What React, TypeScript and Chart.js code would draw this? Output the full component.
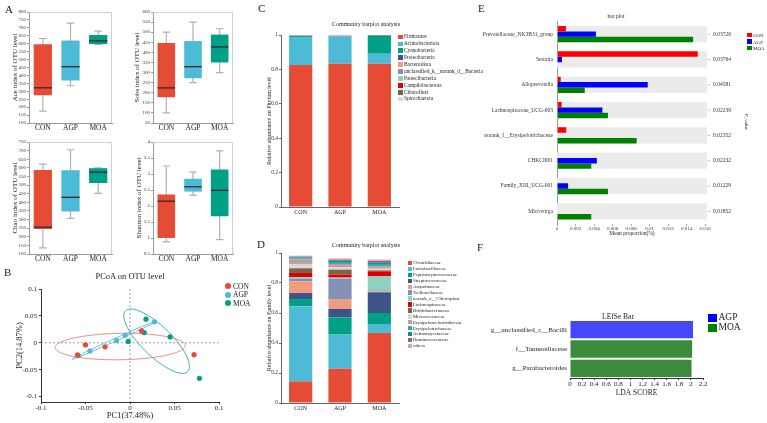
import React, { useEffect, useRef } from 'react';
import { Chart, registerables } from 'chart.js';

Chart.register(...registerables);

const SERIF = "'Liberation Serif', 'Times New Roman', Times, serif";
Chart.defaults.font.family = SERIF;
Chart.defaults.color = '#222';

// Treatment groups
const groups = ['CON', 'AGP', 'MOA'];
const groupColors = ['#E64B35', '#4DBBD5', '#00A087'];

// A: alpha-diversity summaries per group (CON, AGP, MOA)
const aceMin = [175, 335, 595];
const aceQ1 = [275, 368, 598];
const aceMedian = [322, 455, 618];
const aceQ3 = [596, 620, 655];
const aceMax = [633, 730, 680];

const sobsMin = [100, 250, 300];
const sobsQ1 = [178, 272, 350];
const sobsMedian = [224, 329, 427];
const sobsQ3 = [447, 456, 488];
const sobsMax = [500, 550, 517];

const chaoMin = [135, 307, 452];
const chaoQ1 = [245, 347, 512];
const chaoMedian = [256, 429, 575];
const chaoQ3 = [587, 586, 598];
const chaoMax = [622, 705, 600];

const shannonMin = [0.88, 2.34, 0.95];
const shannonQ1 = [1.0, 2.45, 1.68];
const shannonMedian = [2.15, 2.6, 2.49];
const shannonQ3 = [2.36, 2.85, 3.14];
const shannonMax = [3.25, 3.06, 3.72];

// B: PCoA sample scores
const conPC1 = [-0.05, -0.028, -0.059, 0.013, 0.072];
const conPC2 = [-0.004, -0.0075, -0.0225, 0.022, -0.022];
const agpPC1 = [-0.058, -0.045, -0.015, -0.0054, 0.0275];
const agpPC2 = [-0.024, -0.015, 0.004, 0.014, 0.039];
const moaPC1 = [0.018, 0.016, -0.002, 0.045, 0.078];
const moaPC2 = [0.044, 0.019, 0.0025, 0.011, -0.066];
// group confidence ellipses: centre and two conjugate semi-axes (PC1, PC2)
const ellipseCenter = [[-0.011, -0.007], [-0.0175, 0.005], [0.03, 0.003]];
const ellipseAxisA = [[0.073, 0.0025], [0.0477, 0.0356], [0.0351, -0.0563]];
const ellipseAxisB = [[-0.002, 0.0245], [0.0006, -0.0023], [0.0116, 0.02]];
const ellipseColors = ['#EE8C80', '#5EC2D9', '#35B09C'];

// C: phylum-level relative abundance
const phyla = [
  'Firmicutes', 'Actinobacteriota', 'Cyanobacteria', 'Proteobacteria', 'Bacteroidota',
  'unclassified_k__norank_d__Bacteria', 'Patescibacteria', 'Campilobacterota', 'Chloroflexi', 'Spirochaetota',
];
const phylumColors = ['#E64B35', '#4DBBD5', '#00A087', '#3C5488', '#F39B7F', '#8491B4', '#91D1C2', '#DC0000', '#7E6148', '#D9D9D9'];
const phylumCON = [0.825, 0.16, 0.009, 0.001, 0.002, 0.001, 0.001, 0.0005, 0.0003, 0.0002];
const phylumAGP = [0.833, 0.157, 0.001, 0.002, 0.003, 0.001, 0.0015, 0.0005, 0.0005, 0.0005];
const phylumMOA = [0.833, 0.058, 0.104, 0.003, 0.001, 0.0005, 0.0005, 0.0003, 0.0002, 0];

// D: family-level relative abundance
const families = [
  'Clostridiaceae', 'Lactobacillaceae', 'Peptostreptococcaceae', 'Streptococcaceae', 'Atopobiaceae',
  'Veillonellaceae', 'norank_o__Chloroplast', 'Lachnospiraceae', 'Bifidobacteriaceae', 'Micrococcaceae',
  'Erysipelatoclostridiaceae', 'Erysipelotrichaceae', 'Actinomycetaceae', 'Ruminococcaceae', 'others',
];
const familyColors = [
  '#E64B35', '#4DBBD5', '#00A087', '#3C5488', '#F39B7F', '#8491B4', '#91D1C2', '#DC0000', '#7E6148',
  '#D9D9D9', '#C49A9A', '#22B0B0', '#2E7D8C', '#8C6B7E', '#D8A7AE',
];
const familyCON = [0.144, 0.5, 0.049, 0.04, 0.078, 0.016, 0.013, 0.027, 0.031, 0.029, 0.029, 0.008, 0.007, 0.005, 0.006];
const familyAGP = [0.229, 0.227, 0.115, 0.056, 0.062, 0.14, 0.007, 0.02, 0.033, 0.015, 0.023, 0.013, 0.009, 0.007, 0.008];
const familyMOA = [0.467, 0.055, 0.078, 0.138, 0.006, 0.007, 0.093, 0.034, 0.006, 0.012, 0.015, 0.016, 0.011, 0.009, 0.009];

// E: differential genera, mean proportion (%)
const genera = [
  'Prevotellaceae_NK3B31_group', 'Serratia', 'Alloprevotella', 'Lachnospiraceae_UCG-003',
  'norank_f__Erysipelotrichaceae', 'CHKCI001', 'Family_XIII_UCG-001', 'Microvirga',
];
const genusCON = [0.00097, 0.0152, 0.0004, 0.0005, 0.001, 0, 0, 0];
const genusAGP = [0.0042, 0.00054, 0.0098, 0.0049, 0, 0.0043, 0.0012, 0];
const genusMOA = [0.0147, 0, 0.003, 0.0055, 0.0086, 0.0037, 0.0055, 0.0037];
const genusP = ['0.03726', '0.03764', '0.04581', '0.02239', '0.02352', '0.02232', '0.01229', '0.01852'];
const barGroupColors = ['#FF0000', '#0000FF', '#008000'];

// F: LEfSe
const ldaTaxa = ['g__unclassified_c__Bacilli', 'f__Tannerellaceae', 'g__Parabacteroides'];
const ldaScores = [2.035, 2.02, 2.01];
const ldaGroups = ['AGP', 'MOA', 'MOA'];
const ldaLegend = ['AGP', 'MOA'];
const ldaColors: Record<string, string> = { AGP: '#4646FA', MOA: '#3A8B3A' };
const ldaLegendColors = ['#0000FF', '#008000'];

type Rect = { x: number; y: number; w: number; h: number };
type Area = { l: number; t: number; r: number; b: number };

const fmt = (v: any) => String(Number(Number(v).toPrecision(6)));

const fixedWidth = (w: number) => (s: any) => {
  s.width = w;
  s.paddingLeft = 0; s.paddingRight = 0; s.paddingTop = 0; s.paddingBottom = 0;
};
const fixedHeight = (h: number) => (s: any) => {
  s.height = h;
  s.paddingLeft = 0; s.paddingRight = 0; s.paddingTop = 0; s.paddingBottom = 0;
};
// y-axis fills the canvas to the left of the plot, x-axis fills it below
const layoutPadding = (c: Rect, a: Area) => ({
  left: 0,
  top: a.t - c.y,
  right: c.x + c.w - a.r,
  bottom: 0,
});

const baseOptions = () => ({
  responsive: false,
  animation: false,
  events: [],
  devicePixelRatio: 1,
  plugins: { legend: { display: false }, tooltip: { enabled: false }, title: { display: false } },
});

// whiskers + median for the box charts
function boxWhiskers(mins: number[], meds: number[], maxs: number[]) {
  return {
    id: 'boxWhiskers',
    beforeDatasetsDraw(chart: any) {
      const { ctx } = chart;
      const y = chart.scales.y;
      const meta = chart.getDatasetMeta(0);
      ctx.save();
      ctx.strokeStyle = '#b0b0b0';
      ctx.lineWidth = 1.2;
      meta.data.forEach((bar: any, i: number) => {
        const x = bar.x;
        const cap = bar.width * 0.42;
        const yt = y.getPixelForValue(maxs[i]);
        const yb = y.getPixelForValue(mins[i]);
        ctx.beginPath();
        ctx.moveTo(x, yt); ctx.lineTo(x, yb);
        ctx.moveTo(x - cap / 2, yt); ctx.lineTo(x + cap / 2, yt);
        ctx.moveTo(x - cap / 2, yb); ctx.lineTo(x + cap / 2, yb);
        ctx.stroke();
      });
      ctx.restore();
    },
    afterDatasetsDraw(chart: any) {
      const { ctx } = chart;
      const y = chart.scales.y;
      const meta = chart.getDatasetMeta(0);
      ctx.save();
      ctx.strokeStyle = '#3a2a2a';
      ctx.lineWidth = 1.3;
      meta.data.forEach((bar: any, i: number) => {
        const ym = y.getPixelForValue(meds[i]);
        ctx.beginPath();
        ctx.moveTo(bar.x - bar.width / 2, ym);
        ctx.lineTo(bar.x + bar.width / 2, ym);
        ctx.stroke();
      });
      ctx.restore();
    },
  };
}

function frameTopRight(color: string) {
  return {
    id: 'frameTopRight',
    afterDatasetsDraw(chart: any) {
      const { ctx, chartArea } = chart;
      const { left, right, top, bottom } = chartArea;
      ctx.save();
      ctx.strokeStyle = color;
      ctx.lineWidth = 1;
      ctx.beginPath();
      ctx.moveTo(left, Math.round(top) + 0.5);
      ctx.lineTo(Math.round(right) - 0.5, Math.round(top) + 0.5);
      ctx.lineTo(Math.round(right) - 0.5, bottom);
      ctx.stroke();
      ctx.restore();
    },
  };
}

function boxChart(c: Rect, a: Area, title: string, titleX: number, stats: number[][], yMin: number, yMax: number, step: number) {
  const [mn, q1, md, q3, mx] = stats;
  const yW = a.l - c.x;
  const xH = c.y + c.h - a.b;
  return {
    type: 'bar',
    data: {
      labels: groups,
      datasets: [{
        data: q1.map((v, i) => [v, q3[i]]),
        backgroundColor: groupColors,
        borderWidth: 0,
        barPercentage: 0.66,
        categoryPercentage: 1,
      }],
    },
    options: {
      ...baseOptions(),
      layout: { padding: layoutPadding(c, a) },
      scales: {
        x: {
          afterFit: fixedHeight(xH),
          grid: { display: false, drawTicks: true, tickLength: 1 },
          border: { display: true, color: '#9a9a9a' },
          ticks: { font: { size: 7.5 }, color: '#222', padding: 0 },
        },
        y: {
          min: yMin, max: yMax,
          afterFit: fixedWidth(yW),
          grid: { display: true, drawOnChartArea: false, drawTicks: true, tickLength: 2, color: '#9a9a9a' },
          border: { display: true, color: '#9a9a9a' },
          ticks: { stepSize: step, font: { size: 5 }, color: '#333', padding: 1, callback: fmt, autoSkip: false },
          title: { display: true, text: title, font: { size: 7 }, color: '#222', padding: { top: titleX - c.x - 4.2, bottom: 0 } },
        },
      },
    },
    plugins: [boxWhiskers(mn, md, mx), frameTopRight('#cfcfcf')],
  };
}

const pcoaOverlay = {
  id: 'pcoaOverlay',
  beforeDatasetsDraw(chart: any) {
    const { ctx, chartArea } = chart;
    const { x, y } = chart.scales;
    ctx.save();
    // zero reference lines
    ctx.setLineDash([2, 2]);
    ctx.strokeStyle = '#8a8a8a';
    ctx.lineWidth = 0.8;
    const x0 = x.getPixelForValue(0);
    const y0 = y.getPixelForValue(0);
    ctx.beginPath();
    ctx.moveTo(x0, chartArea.top); ctx.lineTo(x0, chartArea.bottom);
    ctx.moveTo(chartArea.left, y0); ctx.lineTo(chartArea.right, y0);
    ctx.stroke();
    ctx.setLineDash([]);
    // confidence ellipses
    ctx.lineWidth = 1;
    ellipseCenter.forEach((cen, k) => {
      const A = ellipseAxisA[k];
      const B = ellipseAxisB[k];
      ctx.strokeStyle = ellipseColors[k];
      ctx.beginPath();
      for (let s = 0; s <= 120; s++) {
        const t = (s / 120) * Math.PI * 2;
        const px = x.getPixelForValue(cen[0] + A[0] * Math.cos(t) + B[0] * Math.sin(t));
        const py = y.getPixelForValue(cen[1] + A[1] * Math.cos(t) + B[1] * Math.sin(t));
        if (s === 0) ctx.moveTo(px, py); else ctx.lineTo(px, py);
      }
      ctx.closePath();
      ctx.stroke();
    });
    ctx.restore();
  },
};

function pcoaChart(c: Rect, a: Area) {
  const yW = a.l - c.x;
  const xH = c.y + c.h - a.b;
  const pts = (xs: number[], ys: number[]) => xs.map((v, i) => ({ x: v, y: ys[i] }));
  const ds = (data: any[], k: number) => ({
    label: groups[k], data, backgroundColor: groupColors[k], borderColor: groupColors[k], pointRadius: 2.6, borderWidth: 0,
  });
  return {
    type: 'scatter',
    data: {
      datasets: [ds(pts(conPC1, conPC2), 0), ds(pts(agpPC1, agpPC2), 1), ds(pts(moaPC1, moaPC2), 2)],
    },
    options: {
      ...baseOptions(),
      layout: { padding: layoutPadding(c, a) },
      scales: {
        x: {
          type: 'linear', min: -0.1, max: 0.1,
          afterFit: fixedHeight(xH),
          grid: { display: true, drawOnChartArea: false, drawTicks: true, tickLength: 2, color: '#333' },
          border: { display: true, color: '#333' },
          ticks: { stepSize: 0.05, includeBounds: false, font: { size: 7 }, color: '#222', padding: 0, callback: fmt },
          title: { display: true, text: 'PC1(37.48%)', font: { size: 8.5 }, color: '#222', padding: { top: 0, bottom: c.y + c.h - 415.5 - 5.1 } },
        },
        y: {
          type: 'linear', min: -0.11, max: 0.1,
          afterFit: fixedWidth(yW),
          grid: { display: true, drawOnChartArea: false, drawTicks: true, tickLength: 2, color: '#333' },
          border: { display: true, color: '#333' },
          ticks: { stepSize: 0.05, includeBounds: false, font: { size: 7 }, color: '#222', padding: 2, callback: fmt },
          title: { display: true, text: 'PC2(14.87%)', font: { size: 8.5 }, color: '#222', padding: { top: 20 - c.x - 5.1, bottom: 0 } },
        },
      },
    },
    plugins: [pcoaOverlay],
  };
}

function stackChart(c: Rect, a: Area, title: string, titleX: number, names: string[], colors: string[], con: number[], agp: number[], moa: number[]) {
  const yW = a.l - c.x;
  const xH = c.y + c.h - a.b;
  return {
    type: 'bar',
    data: {
      labels: groups,
      datasets: names.map((n, k) => ({
        label: n,
        data: [con[k], agp[k], moa[k]],
        backgroundColor: colors[k],
        borderWidth: 0,
        barPercentage: 0.59,
        categoryPercentage: 1,
      })),
    },
    options: {
      ...baseOptions(),
      layout: { padding: layoutPadding(c, a) },
      scales: {
        x: {
          stacked: true,
          afterFit: fixedHeight(xH),
          grid: { display: false, drawTicks: true, tickLength: 2 },
          border: { display: true, color: '#666' },
          ticks: { font: { size: 6 }, color: '#222', padding: 0 },
        },
        y: {
          stacked: true, min: 0, max: 1,
          afterFit: fixedWidth(yW),
          grid: { display: true, drawOnChartArea: false, drawTicks: true, tickLength: 2, color: '#666' },
          border: { display: true, color: '#666' },
          ticks: { stepSize: 0.2, font: { size: 5.5 }, color: '#333', padding: 1, callback: fmt },
          title: { display: true, text: title, font: { size: 6 }, color: '#222', padding: { top: titleX - c.x - 3.6, bottom: 0 } },
        },
      },
    },
  };
}

const genusOverlay = {
  id: 'genusOverlay',
  beforeDatasetsDraw(chart: any) {
    const { ctx, chartArea } = chart;
    const y = chart.scales.y;
    const h = (y.getPixelForValue(1) - y.getPixelForValue(0)) * 0.64;
    ctx.save();
    ctx.fillStyle = '#EBEBEB';
    genera.forEach((_, i) => {
      const cy = y.getPixelForValue(i);
      ctx.fillRect(chartArea.left, cy - h / 2, chartArea.right - chartArea.left, h);
    });
    ctx.restore();
  },
  afterDraw(chart: any) {
    const { ctx, chartArea } = chart;
    const y = chart.scales.y;
    ctx.save();
    ctx.font = `5.5px ${SERIF}`;
    ctx.textBaseline = 'middle';
    genusP.forEach((p, i) => {
      const cy = y.getPixelForValue(i);
      ctx.strokeStyle = '#e08a8a';
      ctx.lineWidth = 0.8;
      ctx.beginPath();
      ctx.moveTo(chartArea.right + 1, cy); ctx.lineTo(chartArea.right + 3, cy);
      ctx.stroke();
      ctx.fillStyle = '#333';
      ctx.fillText(p, chartArea.right + 6, cy);
    });
    ctx.restore();
  },
};

function genusChart(c: Rect, a: Area) {
  const yW = a.l - c.x;
  const xH = c.y + c.h - a.b;
  const values = [genusCON, genusAGP, genusMOA];
  return {
    type: 'bar',
    data: {
      labels: genera,
      datasets: values.map((v, k) => ({
        label: groups[k], data: v, backgroundColor: barGroupColors[k], borderWidth: 0, barPercentage: 1, categoryPercentage: 0.64,
      })),
    },
    options: {
      ...baseOptions(),
      indexAxis: 'y',
      layout: { padding: layoutPadding(c, a) },
      scales: {
        x: {
          type: 'linear', min: 0, max: 0.0162,
          afterFit: fixedHeight(xH),
          grid: { display: true, drawOnChartArea: false, drawTicks: true, tickLength: 2, color: '#aaa' },
          border: { display: false },
          ticks: { stepSize: 0.002, includeBounds: false, font: { size: 5 }, color: '#333', padding: 0, callback: fmt, autoSkip: false, maxRotation: 0 },
          title: { display: true, text: 'Mean proportion(%)', font: { size: 5.5 }, color: '#222', padding: { top: 0, bottom: c.y + c.h - 233.5 - 3.3 } },
        },
        y: {
          afterFit: fixedWidth(yW),
          grid: { display: false, drawTicks: true, tickLength: 2 },
          border: { display: true, color: '#999' },
          ticks: { font: { size: 5.5 }, color: '#333', padding: 2, autoSkip: false },
        },
      },
    },
    plugins: [genusOverlay],
  };
}

function ldaChart(c: Rect, a: Area) {
  const yW = a.l - c.x;
  const xH = c.y + c.h - a.b;
  return {
    type: 'bar',
    data: {
      labels: ldaTaxa,
      datasets: [{
        data: ldaScores,
        backgroundColor: ldaGroups.map((g) => ldaColors[g]),
        borderWidth: 0,
        barPercentage: 0.9,
        categoryPercentage: 1,
      }],
    },
    options: {
      ...baseOptions(),
      indexAxis: 'y',
      layout: { padding: layoutPadding(c, a) },
      scales: {
        x: {
          type: 'linear', min: 0, max: 2.2,
          afterFit: fixedHeight(xH),
          grid: { display: true, drawOnChartArea: false, drawTicks: true, tickLength: 2, color: '#333' },
          border: { display: true, color: '#333' },
          ticks: { stepSize: 0.2, includeBounds: false, font: { size: 7 }, color: '#222', padding: 0, callback: fmt, autoSkip: false, maxRotation: 0 },
          title: { display: true, text: 'LDA SCORE', font: { size: 7.5 }, color: '#222', padding: { top: 0, bottom: c.y + c.h - 393 - 4.5 } },
        },
        y: {
          afterFit: fixedWidth(yW),
          grid: { display: false, drawTicks: true, tickLength: 0 },
          border: { display: false },
          ticks: { font: { size: 7 }, color: '#222', padding: 3 },
        },
      },
    },
  };
}

function ChartCanvas({ rect, make }: { rect: Rect; make: () => any }) {
  const ref = useRef<HTMLCanvasElement>(null);
  useEffect(() => {
    const chart = new Chart(ref.current as HTMLCanvasElement, make());
    return () => chart.destroy();
  }, []);
  return (
    <canvas
      ref={ref}
      width={rect.w}
      height={rect.h}
      style={{ position: 'absolute', left: rect.x, top: rect.y, width: rect.w, height: rect.h }}
    />
  );
}

function Txt({ x, y, size, children, align = 'left', rotate = 0, color = '#222' }: any) {
  const tx = align === 'center' ? '-50%' : align === 'right' ? '-100%' : '0%';
  return (
    <div
      style={{
        position: 'absolute', left: x, top: y, fontSize: size, lineHeight: 1, whiteSpace: 'nowrap', color,
        transform: `translate(${tx}, -50%)${rotate ? ` rotate(${rotate}deg)` : ''}`,
      }}
    >
      {children}
    </div>
  );
}

const Box = ({ x, y, w, h, color, round = false }: any) => (
  <div style={{ position: 'absolute', left: x, top: y, width: w, height: h, background: color, borderRadius: round ? '50%' : 0 }} />
);

// panel geometry (canvas rect + plot area in page pixels)
const rA1: Rect = { x: 0, y: 2, w: 125, h: 140 };
const pA1: Area = { l: 29, t: 12, r: 112, b: 123 };
const rA2: Rect = { x: 125, y: 2, w: 125, h: 140 };
const pA2: Area = { l: 153, t: 12, r: 233, b: 123 };
const rA3: Rect = { x: 0, y: 134, w: 125, h: 138 };
const pA3: Area = { l: 29, t: 142, r: 112, b: 254 };
const rA4: Rect = { x: 125, y: 134, w: 125, h: 138 };
const pA4: Area = { l: 153, t: 142, r: 233, b: 254 };
const rB: Rect = { x: 0, y: 268, w: 225, h: 155 };
const pB: Area = { l: 41, t: 289, r: 219, b: 402 };
const rC: Rect = { x: 250, y: 20, w: 150, h: 200 };
const pC: Area = { l: 281, t: 35, r: 399, b: 207 };
const rD: Rect = { x: 250, y: 246, w: 150, h: 177 };
const pD: Area = { l: 281, t: 253, r: 399, b: 403 };
const rE: Rect = { x: 470, y: 12, w: 297, h: 233 };
const pE: Area = { l: 557, t: 21.5, r: 707, b: 224 };
const rF: Rect = { x: 480, y: 300, w: 250, h: 110 };
const pF: Area = { l: 570, t: 320, r: 703, b: 378 };

export default function App() {
  return (
    <div
      style={{
        position: 'fixed', left: 0, top: 0, width: 767, height: 423, background: '#fff', overflow: 'hidden',
        fontFamily: SERIF, color: '#222',
      }}
    >
      <ChartCanvas rect={rA1} make={() => boxChart(rA1, pA1, 'Ace index of OTU level', 15, [aceMin, aceQ1, aceMedian, aceQ3, aceMax], 100, 800, 50)} />
      <ChartCanvas rect={rA2} make={() => boxChart(rA2, pA2, 'Sobs index of OTU level', 137.5, [sobsMin, sobsQ1, sobsMedian, sobsQ3, sobsMax], 50, 600, 50)} />
      <ChartCanvas rect={rA3} make={() => boxChart(rA3, pA3, 'Chao index of OTU level', 15, [chaoMin, chaoQ1, chaoMedian, chaoQ3, chaoMax], 100, 750, 50)} />
      <ChartCanvas rect={rA4} make={() => boxChart(rA4, pA4, 'Shannon index of OTU level', 139, [shannonMin, shannonQ1, shannonMedian, shannonQ3, shannonMax], 0.5, 4, 0.5)} />
      <ChartCanvas rect={rB} make={() => pcoaChart(rB, pB)} />
      <ChartCanvas rect={rC} make={() => stackChart(rC, pC, 'Relative abundance on Phylum level', 269, phyla, phylumColors, phylumCON, phylumAGP, phylumMOA)} />
      <ChartCanvas rect={rD} make={() => stackChart(rD, pD, 'Relative abundance on Family level', 269, families, familyColors, familyCON, familyAGP, familyMOA)} />
      <ChartCanvas rect={rE} make={() => genusChart(rE, pE)} />
      <ChartCanvas rect={rF} make={() => ldaChart(rF, pF)} />

      {/* panel letters */}
      <Txt x={5} y={9} size={11}>A</Txt>
      <Txt x={4} y={272} size={11}>B</Txt>
      <Txt x={258} y={8} size={11}>C</Txt>
      <Txt x={257} y={244} size={11}>D</Txt>
      <Txt x={478} y={8} size={11}>E</Txt>
      <Txt x={477} y={247} size={11}>F</Txt>

      {/* B */}
      <Txt x={130} y={276} size={8.5} align="center">PCoA on OTU level</Txt>
      {groups.map((g, k) => (
        <React.Fragment key={g}>
          <Box x={225} y={286 + k * 8.6 - 3} w={6} h={6} color={groupColors[k]} round />
          <Txt x={233} y={286.5 + k * 8.6} size={7.5}>{g}</Txt>
        </React.Fragment>
      ))}

      {/* C */}
      <Txt x={366} y={24} size={6} align="center">Community barplot analysis</Txt>
      {phyla.map((n, k) => (
        <React.Fragment key={n}>
          <Box x={398} y={37 + k * 6.9 - 2.4} w={4.8} h={4.8} color={phylumColors[k]} />
          <Txt x={404} y={37.3 + k * 6.9} size={5.3}>{n}</Txt>
        </React.Fragment>
      ))}

      {/* D */}
      <Txt x={366} y={245} size={6} align="center">Community barplot analysis</Txt>
      {families.map((n, k) => (
        <React.Fragment key={n}>
          <Box x={407.5} y={263 + k * 5.93 - 2.2} w={4.4} h={4.4} color={familyColors[k]} />
          <Txt x={413} y={263.3 + k * 5.93} size={4.9}>{n}</Txt>
        </React.Fragment>
      ))}

      {/* E */}
      <Txt x={616} y={17} size={5.5} align="center">bar plot</Txt>
      <Txt x={746} y={122} size={5} align="center" rotate={90}>P_value</Txt>
      {groups.map((g, k) => (
        <React.Fragment key={g}>
          <Box x={747} y={35 + k * 6.5 - 2.3} w={4.6} h={4.6} color={barGroupColors[k]} />
          <Txt x={753} y={35.3 + k * 6.5} size={5}>{g}</Txt>
        </React.Fragment>
      ))}

      {/* F */}
      <Txt x={618} y={317} size={7.5} align="center">LEfSe Bar</Txt>
      {ldaLegend.map((g, k) => (
        <React.Fragment key={g}>
          <Box x={708} y={314 + k * 10} w={8.5} h={7.5} color={ldaLegendColors[k]} />
          <Txt x={718.5} y={318 + k * 10} size={9.5}>{g}</Txt>
        </React.Fragment>
      ))}
    </div>
  );
}
